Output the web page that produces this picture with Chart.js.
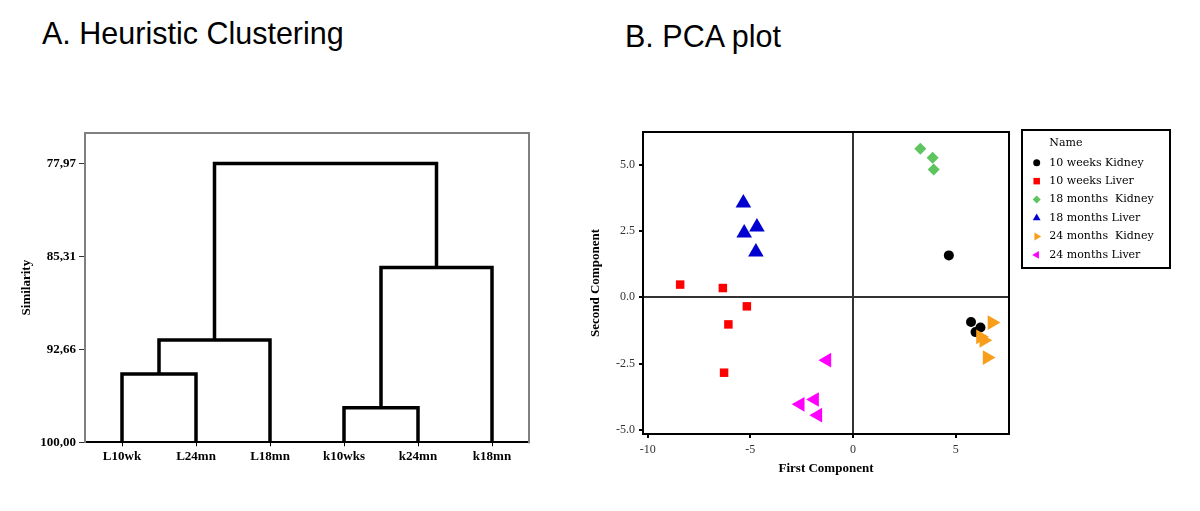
<!DOCTYPE html>
<html><head><meta charset="utf-8">
<script src="https://cdn.jsdelivr.net/npm/chart.js@4.4.0/dist/chart.umd.min.js"></script>
<style>
html,body{margin:0;padding:0;background:#fff;width:1200px;height:511px;overflow:hidden;position:relative}
.t{position:absolute;font-family:"Liberation Sans",Arial,sans-serif;font-size:30.5px;line-height:30.5px;color:#000;white-space:nowrap}
#wa{position:absolute;left:0;top:100px;width:560px;height:400px}
#wb{position:absolute;left:560px;top:100px;width:640px;height:400px}
</style></head><body>
<div class="t" style="left:42px;top:18px">A. Heuristic Clustering</div>
<div class="t" style="left:625px;top:21px">B. PCA plot</div>
<div id="wa"><canvas id="ca" width="560" height="400"></canvas></div>
<div id="wb"><canvas id="cb" width="640" height="400"></canvas></div>
<script>
// ---------- Panel A: dendrogram data ----------
const leafLabels = ['L10wk', 'L24mn', 'L18mn', 'k10wks', 'k24mn', 'k18mn'];
// clusters 0..5 are leaves; merge i creates cluster 6+i
const mergeLeft = [0, 3, 6, 7, 8];
const mergeRight = [1, 4, 2, 5, 9];
const mergeSimilarity = [94.60, 97.27, 91.92, 86.18, 77.97];
const similarityTicks = [77.97, 85.31, 92.66, 100.00];

// ---------- Panel B: PCA data ----------
const groupNames = ['10 weeks Kidney', '10 weeks Liver', '18 months  Kidney', '18 months Liver', '24 months  Kidney', '24 months Liver'];
const kidney10wX = [4.67, 5.75, 6.21, 5.97];
const kidney10wY = [1.58, -0.93, -1.14, -1.31];
const liver10wX = [-8.42, -6.34, -5.17, -6.07, -6.28];
const liver10wY = [0.48, 0.35, -0.34, -1.02, -2.84];
const kidney18mX = [3.28, 3.88, 3.93];
const kidney18mY = [5.60, 5.26, 4.82];
const liver18mX = [-5.34, -4.68, -5.30, -4.73];
const liver18mY = [3.55, 2.65, 2.42, 1.71];
const kidney24mX = [6.77, 6.21, 6.37, 6.53];
const kidney24mY = [-0.95, -1.49, -1.62, -2.27];
const liver24mX = [-1.27, -1.87, -2.57, -1.71];
const liver24mY = [-2.37, -3.85, -4.03, -4.44];
const pcaXTicks = [-10, -5, 0, 5];
const pcaYTicks = [-5, -2.5, 0, 2.5, 5];
const legendTitle = 'Name';

// ---------- build dendrogram segments ----------
const pos = leafLabels.map((_, i) => i);
const hgt = leafLabels.map(() => 100);
const uDatasets = [];
mergeLeft.forEach((a, i) => {
  const b = mergeRight[i], H = mergeSimilarity[i];
  uDatasets.push({
    data: [{x: pos[a], y: hgt[a]}, {x: pos[a], y: H}, {x: pos[b], y: H}, {x: pos[b], y: hgt[b]}],
    showLine: true, borderColor: '#000', borderWidth: 3.5, pointRadius: 0,
    borderJoinStyle: 'miter', borderCapStyle: 'butt', tension: 0, clip: false
  });
  pos.push((pos[a] + pos[b]) / 2);
  hgt.push(H);
});

function framePlugin(color, width, sides) {
  return {
    id: 'frame',
    afterDatasetsDraw(chart) {
      const {ctx, chartArea: c} = chart;
      ctx.save();
      ctx.strokeStyle = color; ctx.lineWidth = width; ctx.lineCap = 'square';
      ctx.beginPath();
      if (sides.includes('t')) { ctx.moveTo(c.left, c.top); ctx.lineTo(c.right, c.top); }
      if (sides.includes('r')) { ctx.moveTo(c.right, c.top); ctx.lineTo(c.right, c.bottom); }
      if (sides.includes('b')) { ctx.moveTo(c.left, c.bottom); ctx.lineTo(c.right, c.bottom); }
      if (sides.includes('l')) { ctx.moveTo(c.left, c.top); ctx.lineTo(c.left, c.bottom); }
      ctx.stroke();
      ctx.restore();
    }
  };
}

const serif = '"Liberation Serif", "Times New Roman", serif';

new Chart(document.getElementById('ca'), {
  type: 'scatter',
  data: {datasets: uDatasets},
  options: {
    responsive: false, animation: false, events: [],
    layout: {padding: {top: 33, right: 31, bottom: 17.7, left: 0}},
    plugins: {legend: {display: false}, tooltip: {enabled: false}},
    scales: {
      x: {
        type: 'linear', min: -0.5, max: 5.5,
        afterBuildTicks: s => { s.ticks = leafLabels.map((_, i) => ({value: i})); },
        afterFit: s => { s.height = 40; },
        ticks: {callback: v => leafLabels[v], font: {family: serif, size: 13, weight: 'bold'}, color: '#000', padding: 3, autoSkip: false, maxRotation: 0},
        grid: {drawOnChartArea: false, drawTicks: true, tickLength: 4, color: '#000', tickColor: '#000'},
        border: {color: '#000', width: 2}
      },
      y: {
        type: 'linear', reverse: true, min: 75.55, max: 100,
        afterBuildTicks: s => { s.ticks = similarityTicks.map(v => ({value: v})); },
        afterFit: s => { s.width = 85; },
        ticks: {callback: v => v.toFixed(2).replace('.', ','), font: {family: serif, size: 13, weight: 'bold'}, color: '#000', padding: 3},
        grid: {drawOnChartArea: false, drawTicks: true, tickLength: 6, color: '#333', tickColor: '#333'},
        border: {color: '#808080', width: 2},
        title: {display: true, text: 'Similarity', font: {family: serif, size: 13, weight: 'bold'}, color: '#000', padding: {top: 19, bottom: 0}}
      }
    }
  },
  plugins: [framePlugin('#808080', 2, 'tr')]
});

// ---------- Panel B ----------
const groups = [
  {x: kidney10wX, y: kidney10wY, color: '#000000', style: 'circle', r: 5, rot: 0, lr: 3.5},
  {x: liver10wX, y: liver10wY, color: '#ff0000', style: 'rect', r: 6, rot: 0, lr: 4.6},
  {x: kidney18mX, y: kidney18mY, color: '#5ec45e', style: 'rectRot', r: 6, rot: 0, lr: 4},
  {x: liver18mX, y: liver18mY, color: '#0000d0', style: 'triangle', r: 9, rot: 0, lr: 4.5},
  {x: kidney24mX, y: kidney24mY, color: '#f89e1b', style: 'triangle', r: 8.5, rot: 90, lr: 4.5},
  {x: liver24mX, y: liver24mY, color: '#ff00ff', style: 'triangle', r: 8.5, rot: -90, lr: 4.5}
];
const pcaDatasets = groups.map((g, i) => ({
  label: groupNames[i],
  data: g.x.map((xv, j) => ({x: xv, y: g.y[j]})),
  pointStyle: g.style, pointRadius: g.r, pointRotation: g.rot,
  pointBackgroundColor: g.color, pointBorderColor: g.color, pointBorderWidth: 0,
  backgroundColor: g.color, borderColor: g.color,
  legendRadius: g.lr, order: groups.length - i
}));

const boxLegend = {
  id: 'boxLegend',
  afterDraw(chart) {
    const ctx = chart.ctx;
    ctx.save();
    ctx.lineWidth = 2; ctx.strokeStyle = '#000';
    ctx.strokeRect(462, 30, 148, 138);
    ctx.font = '11px "DejaVu Serif", serif';
    ctx.fillStyle = '#000'; ctx.textBaseline = 'middle'; ctx.textAlign = 'left';
    ctx.fillText(legendTitle, 489.3, 43.5);
    chart.data.datasets.forEach((ds, i) => {
      const y = 62.7 + i * 18.45;
      ctx.fillStyle = ds.pointBackgroundColor;
      Chart.helpers.drawPoint(ctx, {pointStyle: ds.pointStyle, radius: ds.legendRadius, rotation: ds.pointRotation, borderWidth: 0}, 476.7, y);
      ctx.fillStyle = '#000';
      ctx.fillText(ds.label, 489.3, y);
    });
    ctx.restore();
  }
};

const zeroGrid = c => (c.tick && c.tick.value === 0) ? '#333' : 'rgba(0,0,0,0)';

new Chart(document.getElementById('cb'), {
  type: 'scatter',
  data: {datasets: pcaDatasets},
  options: {
    responsive: false, animation: false, events: [],
    layout: {padding: {top: 32, right: 191, bottom: 6, left: 0}},
    plugins: {legend: {display: false}, tooltip: {enabled: false}},
    scales: {
      x: {
        type: 'linear', min: -10.23, max: 7.6,
        afterBuildTicks: s => { s.ticks = pcaXTicks.map(v => ({value: v})); },
        afterFit: s => { s.height = 60; },
        ticks: {callback: v => String(v), font: {family: serif, size: 12}, color: '#333', padding: 5, autoSkip: false, maxRotation: 0},
        grid: {drawOnChartArea: true, drawTicks: true, tickLength: 4, color: zeroGrid, tickColor: '#000', lineWidth: 2},
        border: {display: false},
        title: {display: true, text: 'First Component', font: {family: serif, size: 13, weight: 'bold'}, color: '#000', padding: {top: 0, bottom: 18}}
      },
      y: {
        type: 'linear', min: -5.15, max: 6.23,
        afterBuildTicks: s => { s.ticks = pcaYTicks.map(v => ({value: v})); },
        afterFit: s => { s.width = 83; },
        ticks: {callback: v => v.toFixed(1), font: {family: serif, size: 12}, color: '#333', padding: 4},
        grid: {drawOnChartArea: true, drawTicks: true, tickLength: 4, color: zeroGrid, tickColor: '#000', lineWidth: 2},
        border: {display: false},
        title: {display: true, text: 'Second Component', font: {family: serif, size: 13, weight: 'bold'}, color: '#000', padding: {top: 28, bottom: 0}}
      }
    }
  },
  plugins: [framePlugin('#000', 2, 'trbl'), boxLegend]
});
</script>
</body></html>
